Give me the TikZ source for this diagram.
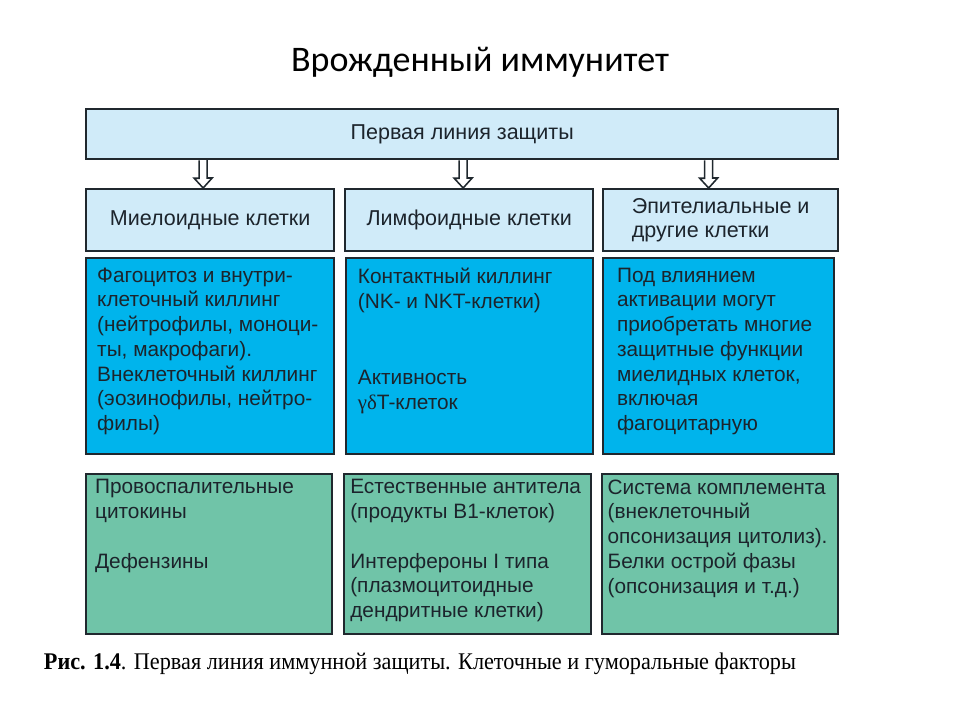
\documentclass[tikz,border=0pt]{standalone}
\usepackage{fontspec}
\setmainfont{Liberation Sans}
\newfontfamily\titlefont{Carlito}
\newfontfamily\capfont[FakeStretch=0.93]{Liberation Serif}
\newfontfamily\greekfont{Liberation Serif}
\usepackage{tikz}
\usetikzlibrary{positioning,calc}
\usepackage{xcolor}
\definecolor{headfill}{RGB}{208,235,249}
\definecolor{cellblue}{RGB}{0,180,236}
\definecolor{cellgreen}{RGB}{112,196,168}
\definecolor{boxline}{RGB}{32,40,46}
\definecolor{inktext}{RGB}{28,36,44}
\newcommand{\headfont}{\fontsize{15.3}{17.6}\selectfont}
\newcommand{\cellfont}{\fontsize{14.8}{17.6}\selectfont}

\begin{document}
\begin{tikzpicture}[x=0.025cm,y=-0.025cm,
    framebox/.style={draw=boxline, line width=1.6pt, anchor=north west, inner sep=0pt},
    headbox/.style={framebox, fill=headfill, minimum height=1.55cm, text=inktext, font=\headfont, align=left},
    actbox/.style={framebox, fill=cellblue, minimum height=4.9cm},
    humbox/.style={framebox, fill=cellgreen, minimum height=4cm},
    celltext/.style={inner sep=0pt, anchor=north west, align=left, text=inktext, font=\cellfont},
    hollowarr/.style={draw=boxline, line width=1.1pt, fill=white, line join=miter}]
    \useasboundingbox (0,0) rectangle (960,720);

    % Title
    \node[font=\titlefont\fontsize{25.6}{30}\selectfont] (title) at (480,62) {Врожденный иммунитет};

    % First line of defence
    \node[headbox, minimum width=18.8cm, minimum height=1.25cm, align=center] (top) at (85,108) {Первая линия защиты};

    % Cell types
    \node[headbox, minimum width=6.2cm] (mye) at (85,188) {Миелоидные клетки};
    \node[headbox, minimum width=6.2cm] (lym) at (344,188) {Лимфоидные клетки};
    \node[headbox, minimum width=5.875cm] (epi) at (602,188) {Эпителиальные и\\другие клетки};

    % Arrows
    \foreach \col/\dx in {mye/-7, lym/-6, epi/-12}
        \draw[hollowarr] ($(\col.north |- top.south)+(\dx-4,0)$) -- ++(0,18) -- ++(-5,0)
            -- ($(\col.north)+(\dx,0)$) -- ++(9,-10) -- ++(-5,0) -- ++(0,-18);

    % Cellular factors
    \node[actbox, minimum width=6.2cm] (myeact) at (85,257) {};
    \node[actbox, minimum width=6.175cm] (lymact) at (345,257) {};
    \node[actbox, minimum width=5.775cm] (epiact) at (602,257) {};
    \node[celltext, below right=7.5pt and 8.5pt of myeact.north west] (myeacttext) {Фагоцитоз и внутри-\\клеточный киллинг\\(нейтрофилы, моноци-\\ты, макрофаги).\\Внеклеточный киллинг\\(эозинофилы, нейтро-\\филы)};
    \node[celltext, below right=7.5pt and 9pt of lymact.north west] (lymacttext) {Контактный киллинг\\(NK- и NKT-клетки)\\[37pt]Активность\\{\greekfont γδ}T-клеток};
    \node[celltext, below right=7.5pt and 10.5pt of epiact.north west] (epiacttext) {Под влиянием\\активации могут\\приобретать многие\\защитные функции\\миелидных клеток,\\включая\\фагоцитарную};

    % Humoral factors
    \node[humbox, minimum width=6.15cm] (myehum) at (85,473) {};
    \node[humbox, minimum width=6.175cm] (lymhum) at (343,473) {};
    \node[humbox, minimum width=5.9cm] (epihum) at (601,473) {};
    \node[celltext, below right=4.5pt and 7pt of myehum.north west] (myehumtext) {Провоспалительные\\цитокины\\[17.6pt]Дефензины};
    \node[celltext, below right=4.5pt and 5pt of lymhum.north west] (lymhumtext) {Естественные антитела\\(продукты В1-клеток)\\[17.6pt]Интерфероны I типа\\(плазмоцитоидные\\дендритные клетки)};
    \node[celltext, below right=4.5pt and 4.5pt of epihum.north west] (epihumtext) {Система комплемента\\(внеклеточный\\опсонизация цитолиз).\\Белки острой фазы\\(опсонизация и т.д.)};

    % Caption
    \node[font=\capfont\fontsize{17}{20}\selectfont, text=black] (caption) at (420,664) {\textbf{Рис. 1.4}. Первая линия иммунной защиты. Клеточные и гуморальные факторы};
\end{tikzpicture}
\end{document}
